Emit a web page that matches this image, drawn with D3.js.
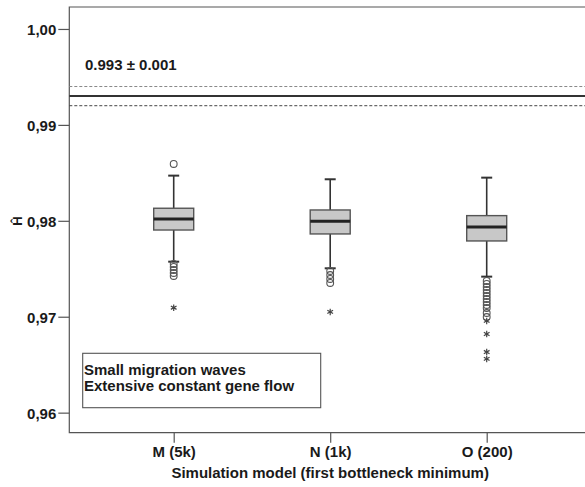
<!DOCTYPE html>
<html>
<head>
<meta charset="utf-8">
<script src="https://cdn.jsdelivr.net/npm/d3@7"></script>
<style>
  html, body { margin: 0; padding: 0; background: #fff; }
  svg text { font-family: "Liberation Sans", Arial, sans-serif; font-weight: bold; fill: #1a1a1a; }
</style>
</head>
<body>
<svg id="chart" width="585" height="487"></svg>
<script>
// ---- data ----
const categories = ["M (5k)", "N (1k)", "O (200)"];
const whiskerHigh = [0.98471, 0.98433, 0.98450];
const q3          = [0.98131, 0.98113, 0.98054];
const medians     = [0.98019, 0.97995, 0.97936];
const q1          = [0.97904, 0.97863, 0.97790];
const whiskerLow  = [0.97574, 0.97505, 0.97418];
const outliersM = [0.98593, 0.97550, 0.97519, 0.97487, 0.97456, 0.97425];
const outliersN = [0.97477, 0.97435, 0.97394, 0.97352];
const outliersO = [0.97373, 0.97342, 0.97310, 0.97279, 0.97248, 0.97216, 0.97185, 0.97154, 0.97123, 0.97091, 0.97039, 0.96997];
const extremesM = [0.97094];
const extremesN = [0.97050];
const extremesO = [0.96956, 0.96820, 0.96632, 0.96560];
const yTicks = [0.96, 0.97, 0.98, 0.99, 1.00];
const refMean = 0.993, refSd = 0.001;
const refLabel = "0.993 ± 0.001";
const legendLines = ["Small migration waves", "Extensive constant gene flow"];
const xTitle = "Simulation model (first bottleneck minimum)";
const yTitle = "Ĥ";

const outliers = [outliersM, outliersN, outliersO];
const extremes = [extremesM, extremesN, extremesO];

// ---- layout ----
const svg = d3.select("#chart");
const pLeft = 69.3, pTop = 7, pBottom = 432.7, pRight = 600;
const x = d3.scalePoint().domain(categories).range([173.7, 486.7]);
const y = d3.scaleLinear().domain([0.95791, 1.00229]).range([pBottom, pTop]);

// frame
svg.append("path")
  .attr("d", `M${pRight},${pTop}H${pLeft}V${pBottom}H${pRight}`)
  .attr("fill", "none").attr("stroke", "#555").attr("stroke-width", 1.2);

// y axis
const yAxis = d3.axisLeft(y).tickValues(yTicks).tickSize(11).tickPadding(2)
  .tickFormat(d => d3.format(".2f")(d).replace(".", ","));
const gy = svg.append("g").attr("transform", `translate(${pLeft},0)`).call(yAxis);
gy.select(".domain").remove();
gy.selectAll(".tick line").attr("stroke", "#555").attr("stroke-width", 1.2);
gy.selectAll(".tick text").style("font-size", "15px").attr("dy", "0.36em");

// x axis
const xAxis = d3.axisBottom(x).tickSize(10).tickPadding(4);
const gx = svg.append("g").attr("transform", `translate(0,${pBottom})`).call(xAxis);
gx.select(".domain").remove();
gx.selectAll(".tick line").attr("stroke", "#555").attr("stroke-width", 1.2);
gx.selectAll(".tick text").style("font-size", "15px");

// axis titles
svg.append("text").attr("x", x(categories[1])).attr("y", 478)
  .attr("text-anchor", "middle").style("font-size", "15px").text(xTitle);
svg.append("text").attr("transform", `translate(22,${221}) rotate(-90)`)
  .attr("text-anchor", "middle").style("font-size", "13px").text(yTitle);

// reference lines
svg.append("line").attr("x1", pLeft).attr("x2", pRight)
  .attr("y1", y(refMean)).attr("y2", y(refMean))
  .attr("stroke", "#333").attr("stroke-width", 2);
svg.append("line").attr("x1", pLeft).attr("x2", pRight)
  .attr("y1", y(refMean + refSd)).attr("y2", y(refMean + refSd))
  .attr("stroke", "#888").attr("stroke-width", 1).attr("stroke-dasharray", "3,2");
svg.append("line").attr("x1", pLeft).attr("x2", pRight)
  .attr("y1", y(refMean - refSd)).attr("y2", y(refMean - refSd))
  .attr("stroke", "#444").attr("stroke-width", 1).attr("stroke-dasharray", "3,2");
svg.append("text").attr("x", 85).attr("y", 70).style("font-size", "15px").text(refLabel);

// boxes
const boxW = 40, capW = 11;
categories.forEach((c, i) => {
  const cx = x(c);
  const g = svg.append("g");
  g.append("line").attr("x1", cx).attr("x2", cx).attr("y1", y(q3[i])).attr("y2", y(whiskerHigh[i]))
    .attr("stroke", "#333").attr("stroke-width", 1.6);
  g.append("line").attr("x1", cx).attr("x2", cx).attr("y1", y(q1[i])).attr("y2", y(whiskerLow[i]))
    .attr("stroke", "#333").attr("stroke-width", 1.6);
  g.append("line").attr("x1", cx - capW / 2).attr("x2", cx + capW / 2)
    .attr("y1", y(whiskerHigh[i])).attr("y2", y(whiskerHigh[i]))
    .attr("stroke", "#333").attr("stroke-width", 2);
  g.append("line").attr("x1", cx - capW / 2).attr("x2", cx + capW / 2)
    .attr("y1", y(whiskerLow[i])).attr("y2", y(whiskerLow[i]))
    .attr("stroke", "#333").attr("stroke-width", 2);
  g.append("rect").attr("x", cx - boxW / 2).attr("width", boxW)
    .attr("y", y(q3[i])).attr("height", y(q1[i]) - y(q3[i]))
    .attr("fill", "#c8c8c8").attr("stroke", "#555").attr("stroke-width", 1.4);
  g.append("line").attr("x1", cx - boxW / 2).attr("x2", cx + boxW / 2)
    .attr("y1", y(medians[i])).attr("y2", y(medians[i]))
    .attr("stroke", "#222").attr("stroke-width", 3);
  g.selectAll("circle.o").data(outliers[i]).join("circle")
    .attr("class", "o")
    .attr("cx", cx).attr("cy", d => y(d)).attr("r", 3.4)
    .attr("fill", "none").attr("stroke", "#555").attr("stroke-width", 1.1);
  g.selectAll("path.e").data(extremes[i]).join("path")
    .attr("class", "e")
    .attr("transform", d => `translate(${cx},${y(d)})`)
    .attr("d", d3.symbol(d3.symbolAsterisk, 30)())
    .attr("fill", "none").attr("stroke", "#444").attr("stroke-width", 1.2);
});

// legend box
svg.append("rect").attr("x", 82.7).attr("y", 353.3).attr("width", 238).attr("height", 54.4)
  .attr("fill", "#fff").attr("stroke", "#555").attr("stroke-width", 1.1);
legendLines.forEach((t, i) => {
  svg.append("text").attr("x", 84).attr("y", 375 + i * 15.5).style("font-size", "15px").text(t);
});
</script>
</body>
</html>
